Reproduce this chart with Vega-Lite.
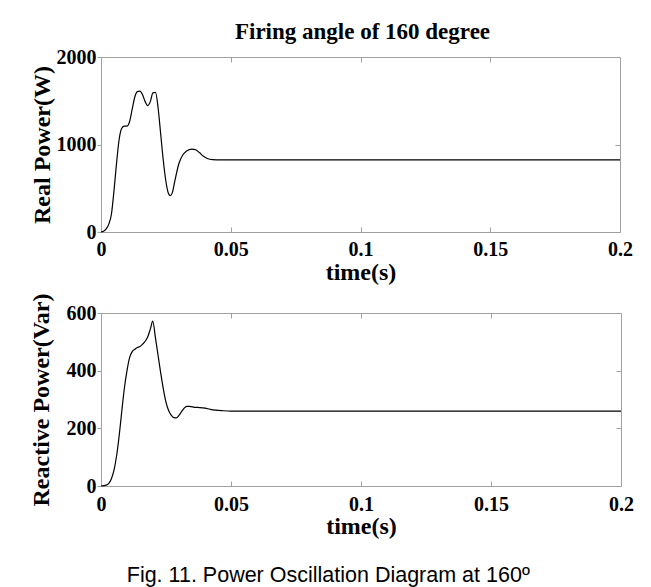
{
  "$schema": "https://vega.github.io/schema/vega-lite/v6.json",
  "padding": {"left": 28, "top": 20, "right": 5, "bottom": 5},
  "background": "white",
  "spacing": 7,
  "title": {"text": "Fig. 11. Power Oscillation Diagram  at 160º", "orient": "bottom", "font": "Liberation Sans", "fontSize": 21.5, "fontWeight": "normal", "color": "black", "offset": 26, "anchor": "middle", "dx": -3},
  "config": {
    "view": {"stroke": "#a0a0a0", "strokeWidth": 1},
    "axis": {"grid": false, "domain": false, "tickColor": "#a0a0a0", "labelFont": "Liberation Serif", "labelFontWeight": "bold", "labelColor": "black", "labelFontSize": 20, "titleFont": "Liberation Serif", "titleFontWeight": "bold", "titleColor": "black", "titleFontSize": 24, "labelFlush": false}
  },
  "datasets": {
    "real": [
      {"t": 0, "p": 0}, {"t": 0.001, "p": 8}, {"t": 0.002, "p": 35}, {"t": 0.003, "p": 90}, {"t": 0.004, "p": 200},
      {"t": 0.005, "p": 470}, {"t": 0.006, "p": 790}, {"t": 0.007, "p": 1060}, {"t": 0.008, "p": 1185}, {"t": 0.009, "p": 1210},
      {"t": 0.010, "p": 1210}, {"t": 0.011, "p": 1260}, {"t": 0.012, "p": 1400}, {"t": 0.013, "p": 1540}, {"t": 0.014, "p": 1605},
      {"t": 0.015, "p": 1610}, {"t": 0.016, "p": 1570}, {"t": 0.017, "p": 1490}, {"t": 0.018, "p": 1445}, {"t": 0.019, "p": 1490},
      {"t": 0.020, "p": 1590}, {"t": 0.021, "p": 1595}, {"t": 0.022, "p": 1420}, {"t": 0.023, "p": 1120}, {"t": 0.024, "p": 820},
      {"t": 0.025, "p": 580}, {"t": 0.026, "p": 440}, {"t": 0.0267, "p": 415}, {"t": 0.0275, "p": 450}, {"t": 0.0285, "p": 590},
      {"t": 0.030, "p": 780}, {"t": 0.0315, "p": 880}, {"t": 0.033, "p": 925}, {"t": 0.035, "p": 948}, {"t": 0.0365, "p": 940},
      {"t": 0.038, "p": 905}, {"t": 0.0395, "p": 865}, {"t": 0.041, "p": 840}, {"t": 0.043, "p": 828}, {"t": 0.046, "p": 825},
      {"t": 0.2, "p": 825}
    ],
    "reactive": [
      {"t": 0, "q": 0}, {"t": 0.002, "q": 3}, {"t": 0.003, "q": 9}, {"t": 0.004, "q": 25}, {"t": 0.005, "q": 55},
      {"t": 0.006, "q": 105}, {"t": 0.007, "q": 175}, {"t": 0.008, "q": 260}, {"t": 0.009, "q": 340}, {"t": 0.010, "q": 400},
      {"t": 0.011, "q": 445}, {"t": 0.012, "q": 466}, {"t": 0.013, "q": 474}, {"t": 0.014, "q": 480}, {"t": 0.015, "q": 484},
      {"t": 0.016, "q": 492}, {"t": 0.017, "q": 502}, {"t": 0.018, "q": 518}, {"t": 0.019, "q": 545}, {"t": 0.0199, "q": 572},
      {"t": 0.021, "q": 510}, {"t": 0.022, "q": 450}, {"t": 0.023, "q": 390}, {"t": 0.024, "q": 335}, {"t": 0.025, "q": 290},
      {"t": 0.026, "q": 262}, {"t": 0.027, "q": 246}, {"t": 0.028, "q": 237}, {"t": 0.029, "q": 236}, {"t": 0.030, "q": 245},
      {"t": 0.031, "q": 258}, {"t": 0.032, "q": 270}, {"t": 0.033, "q": 276}, {"t": 0.034, "q": 276}, {"t": 0.036, "q": 273},
      {"t": 0.038, "q": 272}, {"t": 0.040, "q": 270}, {"t": 0.042, "q": 266}, {"t": 0.044, "q": 263}, {"t": 0.047, "q": 261},
      {"t": 0.05, "q": 260}, {"t": 0.2, "q": 260}
    ]
  },
  "vconcat": [
    {
      "width": 519,
      "height": 175,
      "title": {"text": "Firing angle of 160 degree", "frame": "group", "anchor": "middle", "font": "Liberation Serif", "fontSize": 23, "fontWeight": "bold", "offset": 3, "color": "black", "dx": 2},
      "data": {"name": "real"},
      "layer": [
        {
          "mark": {"type": "line", "color": "black", "strokeWidth": 1.2, "interpolate": "monotone"},
          "encoding": {
            "x": {"field": "t", "type": "quantitative", "scale": {"domain": [0, 0.2], "nice": false, "zero": false},
                  "axis": {"orient": "bottom", "values": [0, 0.05, 0.1, 0.15, 0.2], "format": "~g", "tickSize": -5, "labelPadding": 12, "title": "time(s)", "titlePadding": 1}},
            "y": {"field": "p", "type": "quantitative", "scale": {"domain": [0, 2000], "nice": false},
                  "axis": {"orient": "left", "values": [0, 1000, 2000], "format": "d", "tickSize": 4, "labelPadding": 1, "title": "Real Power(W)", "titlePadding": 2}}
          }
        },
        {
          "mark": {"type": "line", "opacity": 0},
          "encoding": {
            "x": {"field": "t", "type": "quantitative", "axis": {"orient": "top", "values": [0.05, 0.1, 0.15], "labels": false, "tickSize": -5, "title": null}},
            "y": {"field": "p", "type": "quantitative", "axis": {"orient": "right", "values": [1000], "labels": false, "tickSize": -5, "title": null}}
          }
        }
      ],
      "resolve": {"axis": {"x": "independent", "y": "independent"}}
    },
    {
      "width": 520,
      "height": 173,
      "data": {"name": "reactive"},
      "layer": [
        {
          "mark": {"type": "line", "color": "black", "strokeWidth": 1.2, "interpolate": "monotone"},
          "encoding": {
            "x": {"field": "t", "type": "quantitative", "scale": {"domain": [0, 0.2], "nice": false, "zero": false},
                  "axis": {"orient": "bottom", "values": [0, 0.05, 0.1, 0.15, 0.2], "format": "~g", "tickSize": -5, "labelPadding": 13, "title": "time(s)", "titlePadding": 0}},
            "y": {"field": "q", "type": "quantitative", "scale": {"domain": [0, 600], "nice": false},
                  "axis": {"orient": "left", "values": [0, 200, 400, 600], "format": "d", "tickSize": 4, "labelPadding": 1, "title": "Reactive Power(Var)", "titlePadding": 13}}
          }
        },
        {
          "mark": {"type": "line", "opacity": 0},
          "encoding": {
            "x": {"field": "t", "type": "quantitative", "axis": {"orient": "top", "values": [0.05, 0.1, 0.15], "labels": false, "tickSize": -5, "title": null}},
            "y": {"field": "q", "type": "quantitative", "axis": {"orient": "right", "values": [200, 400], "labels": false, "tickSize": -5, "title": null}}
          }
        }
      ],
      "resolve": {"axis": {"x": "independent", "y": "independent"}}
    }
  ]
}
